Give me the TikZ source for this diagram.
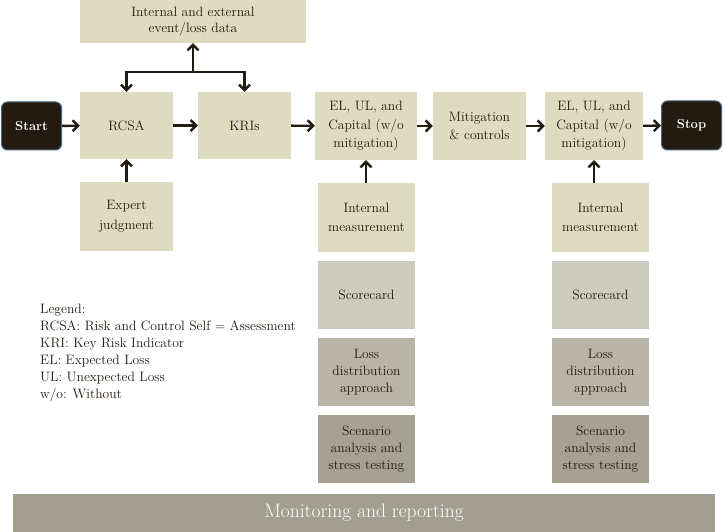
\documentclass[tikz,border=0pt]{standalone}
\usetikzlibrary{arrows.meta,calc}
\definecolor{boxc}{HTML}{DDDCC1}
\definecolor{scorec}{HTML}{CDCBBD}
\definecolor{lossc}{HTML}{B8B5A6}
\definecolor{scenc}{HTML}{A5A193}
\definecolor{barc}{HTML}{A39F90}
\definecolor{darkc}{HTML}{231A10}
\definecolor{edgec}{HTML}{4A6585}
\begin{document}
\begin{tikzpicture}[x=1pt,y=-1pt,
  every node/.style={font=\fontsize{13.6}{18.5}\selectfont, text=darkc},
  bx/.style={fill=#1, draw=none, inner sep=0pt, align=center},
  bx/.default=boxc,
  term/.style={fill=darkc, draw=edgec, line width=1pt, rounded corners=6pt, inner sep=0pt,
     minimum width=60pt, minimum height=48pt, text=white, font=\fontsize{13}{15}\selectfont\bfseries},
  arr/.style={draw=darkc, line width=2.4pt, -{Straight Barb[length=5.5pt,width=11pt,line width=2.4pt]}},
]
\useasboundingbox (0,0) rectangle (723,532);
\node[term] (start) at (31.5,126) {Start};
\node[bx, minimum width=226pt, minimum height=43pt, font=\fontsize{13.6}{16.5}\selectfont] (top) at (193,21.5) {Internal and external\\event/loss data};
\node[bx, minimum width=93pt, minimum height=67pt] (rcsa) at (126.5,125.5) {RCSA};
\node[bx, minimum width=93pt, minimum height=67pt] (kri) at (244.5,125.5) {KRIs};
\node[bx, minimum width=93pt, minimum height=69pt, font=\fontsize{13.6}{19.5}\selectfont] (exp) at (126.5,216.5) {Expert\\judgment};
\node[bx, minimum width=102pt, minimum height=68pt] (el1) at (366,126) {EL, UL, and\\Capital (w/o\\mitigation)};
\node[bx, minimum width=93pt, minimum height=68pt] (mit) at (479.5,126) {Mitigation\\\& controls};
\node[bx, minimum width=98pt, minimum height=68pt] (el2) at (594,126) {EL, UL, and\\Capital (w/o\\mitigation)};
\node[term, minimum height=49pt] (stop) at (691.5,125.5) {Stop};
\foreach \i/\x in {1/366.5,2/600.5}{
  \node[bx, minimum width=97pt, minimum height=69pt] (im\i) at (\x,217.5) {Internal\\measurement};
  \node[bx=scorec, minimum width=97pt, minimum height=68pt] (sc\i) at (\x,295) {Scorecard};
  \node[bx=lossc, minimum width=97pt, minimum height=68pt, font=\fontsize{13.6}{17}\selectfont] (ld\i) at (\x,372) {Loss\\distribution\\approach};
  \node[bx=scenc, minimum width=97pt, minimum height=68pt, font=\fontsize{13.6}{17}\selectfont] (sa\i) at (\x,449) {Scenario\\analysis and\\stress testing};
}
\node[bx=barc, minimum width=702pt, minimum height=38pt, text=white, font=\fontsize{19.5}{22}\selectfont] (bar) at (364,513) {Monitoring and reporting};
\node[anchor=north west, align=left, inner sep=0pt, font=\fontsize{13.6}{17}\selectfont] (legend) at (40,304)
 {Legend:\\RCSA: Risk and Control Self = Assessment\\KRI: Key Risk Indicator\\EL: Expected Loss\\UL: Unexpected Loss\\w/o: Without};
\coordinate (j) at (193,72);
\draw[arr] (j) -- (top.south);
\draw[arr] (j) -| (rcsa.north);
\draw[arr] (j) -| (kri.north);
\draw[arr] (start) -- (rcsa);
\draw[arr] (rcsa) -- (kri);
\draw[arr] (kri) -- (el1);
\draw[arr] (el1) -- (mit);
\draw[arr] (mit) -- (el2);
\draw[arr] (el2) -- (stop);
\draw[arr] (exp) -- (rcsa);
\draw[arr] (el1.south |- im1.north) -- (el1.south);
\draw[arr] (el2.south |- im2.north) -- (el2.south);
\end{tikzpicture}
\end{document}
